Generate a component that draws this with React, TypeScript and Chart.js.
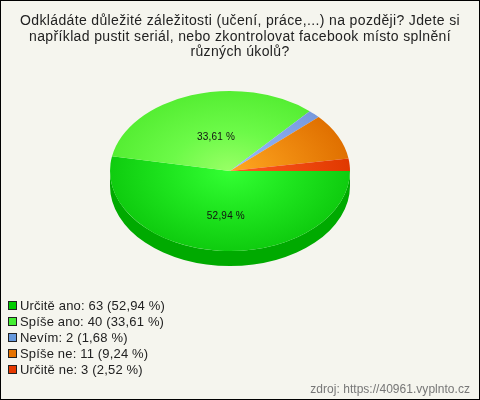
import React, { useEffect, useRef } from "react";
import { Chart, registerables } from "chart.js";

Chart.register(...registerables);

const titleLines = [
  "Odkládáte důležité záležitosti (učení, práce,...) na později? Jdete si",
  "například pustit seriál, nebo zkontrolovat facebook místo splnění",
  "různých úkolů?",
];
const categories = ["Určitě ano", "Spíše ano", "Nevím", "Spíše ne", "Určitě ne"];
const values = [63, 40, 2, 11, 3];
const percents = ["52,94 %", "33,61 %", "1,68 %", "9,24 %", "2,52 %"];
const innerColors = ["#33FF33", "#99FF66", "#99BBFF", "#FFA822", "#FF5A22"];
const middleColors = ["#1FE61F", "#6CFA48", "#88AAEE", "#F08C10", "#F04A10"];
const outerColors = ["#0FCC0F", "#55EE33", "#7799DD", "#E07000", "#E03800"];
const sideColors = ["#00AA00", "#33BB22", "#5577BB", "#B05800", "#B02C00"];
const legendColors = ["#00CC00", "#44EE33", "#6699DD", "#E67300", "#E63900"];
const labelRadii = [0.55, 0.46, 0, 0, 0];
const labelNudgeX = [2, 4, 0, 0, 0];
const sourceText = "zdroj: https://40961.vyplnto.cz";

const FONT = '"Liberation Sans", Arial, sans-serif';
const SQUASH = 80 / 120;
const DEPTH = 15;

const pie3d = {
  id: "pie3d",
  beforeDraw(chart: any) {
    const { ctx, width, height } = chart;
    ctx.save();
    ctx.fillStyle = "#F5F5EE";
    ctx.fillRect(0, 0, width, height);
    ctx.strokeStyle = "#000000";
    ctx.lineWidth = 1;
    ctx.strokeRect(0.5, 0.5, width - 1, height - 1);
    ctx.textBaseline = "alphabetic";

    ctx.fillStyle = "#222222";
    ctx.font = `14px ${FONT}`;
    ctx.letterSpacing = "0.36px";
    ctx.textAlign = "center";
    titleLines.forEach((line, i) => ctx.fillText(line, 240, 25 + i * 15.5));

    ctx.textAlign = "left";
    ctx.font = `13px ${FONT}`;
    ctx.letterSpacing = "0.17px";
    categories.forEach((c, i) => {
      const y = 305.5 + i * 16;
      ctx.fillStyle = legendColors[i];
      ctx.fillRect(8.5, y - 4, 8, 8);
      ctx.strokeStyle = "#222222";
      ctx.strokeRect(8.5, y - 4, 8, 8);
      ctx.fillStyle = "#222222";
      ctx.fillText(`${c}: ${values[i]} (${percents[i]})`, 20, y + 4.5);
    });

    ctx.fillStyle = "#777777";
    ctx.font = `12px ${FONT}`;
    ctx.letterSpacing = "0.03px";
    ctx.textAlign = "right";
    ctx.fillText(sourceText, 470, 393);
    ctx.letterSpacing = "0px";
    ctx.restore();
  },
  beforeDatasetsDraw(chart: any) {
    const { ctx } = chart;
    const arcs = chart.getDatasetMeta(0).data;
    const cy = arcs[0].y;
    ctx.save();
    ctx.translate(0, cy);
    ctx.scale(1, SQUASH);
    ctx.translate(0, -cy);
    // side wall: only the front half of the ellipse is visible
    arcs.forEach((a: any, i: number) => {
      const start = Math.max(a.startAngle, 0);
      const end = Math.min(a.endAngle, Math.PI);
      if (end <= start) return;
      ctx.beginPath();
      ctx.arc(a.x, a.y + DEPTH / SQUASH, a.outerRadius, start, end);
      ctx.arc(a.x, a.y, a.outerRadius, end, start, true);
      ctx.closePath();
      ctx.fillStyle = sideColors[i];
      ctx.fill();
    });
  },
  afterDatasetsDraw(chart: any) {
    const { ctx } = chart;
    ctx.restore();
    const arcs = chart.getDatasetMeta(0).data;
    ctx.save();
    ctx.fillStyle = "#111111";
    ctx.font = `10px ${FONT}`;
    ctx.letterSpacing = "0.2px";
    ctx.textAlign = "center";
    ctx.textBaseline = "middle";
    arcs.forEach((a: any, i: number) => {
      if (!labelRadii[i]) return;
      const mid = (a.startAngle + a.endAngle) / 2;
      const r = a.outerRadius * labelRadii[i];
      ctx.fillText(percents[i], a.x + Math.cos(mid) * r + labelNudgeX[i], a.y + Math.sin(mid) * r * SQUASH + 1);
    });
    ctx.letterSpacing = "0px";
    ctx.restore();
  },
};

export default function App() {
  const ref = useRef<HTMLCanvasElement>(null);
  useEffect(() => {
    document.body.style.margin = "0";
    const chart = new Chart(ref.current!, {
      type: "pie",
      data: {
        labels: categories,
        datasets: [
          {
            data: values,
            borderWidth: 0,
            backgroundColor: (c: any) => {
              const i = c.dataIndex ?? 0;
              const area = c.chart.chartArea;
              if (!area) return outerColors[i];
              const cx = (area.left + area.right) / 2;
              const cy = (area.top + area.bottom) / 2;
              const g = c.chart.ctx.createRadialGradient(cx, cy, 0, cx, cy, 120);
              g.addColorStop(0, innerColors[i]);
              g.addColorStop(0.5, middleColors[i]);
              g.addColorStop(1, outerColors[i]);
              return g;
            },
          },
        ],
      },
      options: {
        responsive: false,
        animation: false,
        rotation: 90,
        layout: { padding: { left: 110, right: 130, top: 51, bottom: 109 } },
        plugins: { legend: { display: false }, title: { display: false }, tooltip: { enabled: false } },
      },
      plugins: [pie3d],
    } as any);
    return () => chart.destroy();
  }, []);
  return <canvas ref={ref} width={480} height={400} style={{ display: "block" }} />;
}
